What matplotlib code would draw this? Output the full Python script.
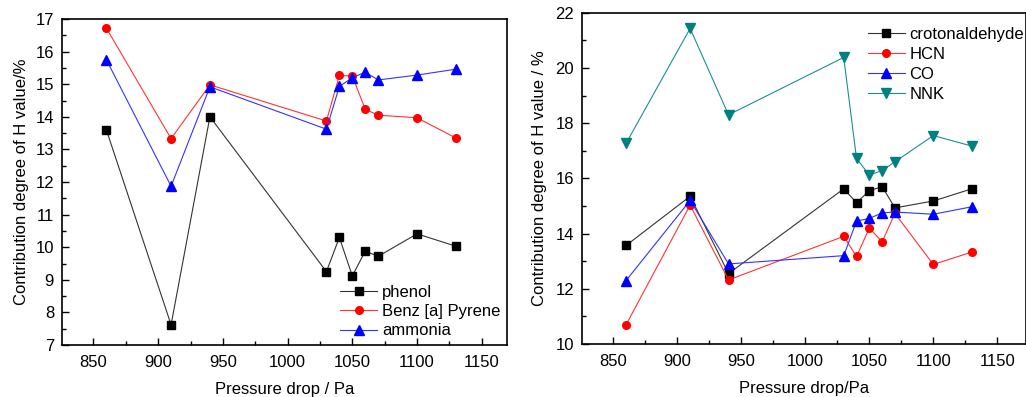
import matplotlib
matplotlib.use("Agg")
import matplotlib.pyplot as plt
from matplotlib.ticker import MultipleLocator

plt.rcParams['font.family'] = ['Liberation Sans', 'DejaVu Sans']

presion = [860, 910, 940, 1030, 1040, 1050, 1060, 1070, 1100, 1130]

# panel izquierdo
fenol = [13.6, 7.62, 14.0, 9.25, 10.3, 9.12, 9.88, 9.72, 10.41, 10.03]
benzopireno = [16.72, 13.33, 14.98, 13.87, 15.27, 15.25, 14.23, 14.05, 13.97, 13.35]
amoniaco = [15.75, 11.87, 14.92, 13.62, 14.93, 15.2, 15.37, 15.13, 15.28, 15.46]

# panel derecho
crotonaldehido = [13.57, 15.35, 12.55, 15.62, 15.12, 15.55, 15.7, 14.93, 15.18, 15.62]
hcn = [10.7, 15.03, 12.32, 13.9, 13.17, 14.2, 13.7, 14.73, 12.88, 13.33]
co = [12.3, 15.2, 12.9, 13.2, 14.45, 14.55, 14.75, 14.78, 14.7, 14.97]
nnk = [17.27, 21.43, 18.3, 20.38, 16.72, 16.12, 16.28, 16.6, 17.55, 17.17]

fig = plt.figure(figsize=(10.26, 3.97), dpi=100)
ax1 = fig.add_axes([61.7/1026, 1-345/397, (507-61.7)/1026, (345-19)/397])
ax2 = fig.add_axes([581.7/1026, 1-344/397, (1025.5-581.7)/1026, (344-12.7)/397])

cuad = dict(lw=0.8, ms=5.5)
tri = dict(lw=0.8, ms=6.5)
ax1.plot(presion, fenol, '-s', color='#333333', mfc='black', mec='black', label='phenol', **cuad)
ax1.plot(presion, benzopireno, '-o', color='#ff3333', mfc='red', mec='red', label='Benz [a] Pyrene', **cuad)
ax1.plot(presion, amoniaco, '-^', color='#3333ff', mfc='blue', mec='blue', label='ammonia', **tri)

ax2.plot(presion, crotonaldehido, '-s', color='#333333', mfc='black', mec='black', label='crotonaldehyde', **cuad)
ax2.plot(presion, hcn, '-o', color='#ff3333', mfc='red', mec='red', label='HCN', **cuad)
ax2.plot(presion, co, '-^', color='#3333ff', mfc='blue', mec='blue', label='CO', **tri)
ax2.plot(presion, nnk, '-v', color='#1a9090', mfc='#008080', mec='#008080', label='NNK', **tri)

ax1.set_xlim(825.5, 1169.5)
ax1.set_ylim(7, 17)
ax1.yaxis.set_major_locator(MultipleLocator(1))
ax1.yaxis.set_minor_locator(MultipleLocator(0.5))
ax2.set_xlim(825.3, 1172)
ax2.set_ylim(10, 22)
ax2.yaxis.set_major_locator(MultipleLocator(2))
ax2.yaxis.set_minor_locator(MultipleLocator(1))

for ax in (ax1, ax2):
    ax.xaxis.set_major_locator(MultipleLocator(50))
    ax.xaxis.set_minor_locator(MultipleLocator(25))
    ax.tick_params(which='both', direction='in', top=False, right=False, labelsize=12, width=1)
    ax.tick_params(which='major', length=5)
    ax.tick_params(which='minor', length=3)
    ax.tick_params(axis='x', which='major', pad=7)
    ax.tick_params(axis='y', which='major', pad=5.5)
    for s in ax.spines.values():
        s.set_linewidth(1.2)

ax1.set_xlabel('Pressure drop / Pa', fontsize=12, labelpad=9)
ax1.set_ylabel('Contribution degree of H value/%', fontsize=12, labelpad=4.5)
ax2.set_xlabel('Pressure drop/Pa', fontsize=12, labelpad=9)
ax2.set_ylabel('Contribution degree of H value / %', fontsize=12, labelpad=6)

ax1.legend(loc='lower right', frameon=False, fontsize=12, handlelength=2.2,
           borderaxespad=0, labelspacing=0.26, handletextpad=0.3,
           bbox_to_anchor=(1.0, 0.0))
ax2.legend(loc='upper right', frameon=False, fontsize=12, handlelength=2.2,
           borderaxespad=0, labelspacing=0.3, handletextpad=0.3,
           bbox_to_anchor=(1.012, 0.977))

fig.savefig('out.png', dpi=100)
